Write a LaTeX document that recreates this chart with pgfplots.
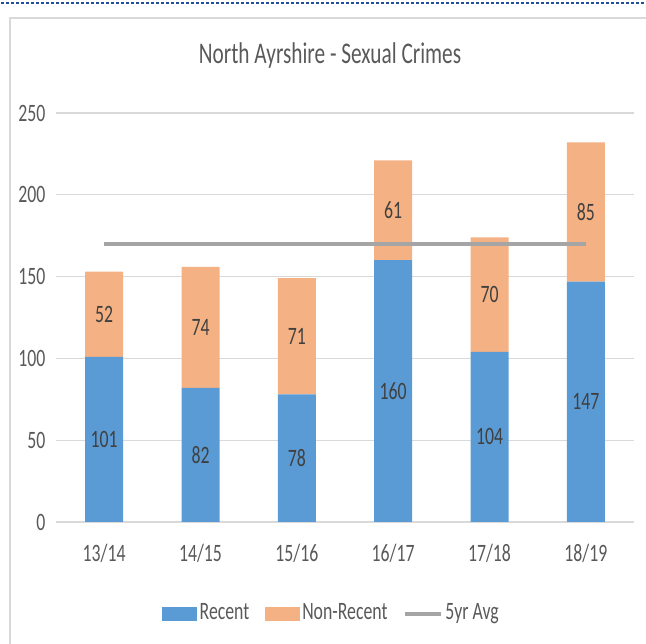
\documentclass[border=0pt]{standalone}
\usepackage{pgfplots}
\pgfplotsset{compat=1.18}
\usepackage{fontspec}
\setmainfont{Carlito}[FakeStretch=0.71]
\definecolor{cblue}{HTML}{5B9BD5}
\definecolor{corange}{HTML}{F4B183}
\definecolor{cgray}{HTML}{A5A5A5}
\definecolor{ctext}{HTML}{595959}
\definecolor{clabel}{HTML}{404040}
\definecolor{cgrid}{HTML}{D9D9D9}
\definecolor{cdot}{HTML}{1F4E9A}
\begin{document}
\fontsize{25}{30}\selectfont
\begin{tikzpicture}[x=1pt,y=1pt]
\useasboundingbox (0,0) rectangle (646,644);
\begin{scope}
\clip (0,0) rectangle (646,644);
\draw[cdot, line width=2.5pt, dash pattern=on 2.5pt off 2.5pt] (1,641) -- (646,641);
\draw[cgrid, line width=1.5pt] (10,-2) rectangle (660,626);
\end{scope}
\node[ctext, font=\fontsize{30}{34}\selectfont] at (330,588) {North Ayrshire - Sexual Crimes};
\pgfplotsset{common/.style={
  at={(56pt,122pt)}, anchor=south west,
  width=578pt, height=409pt, scale only axis,
  xmin=-0.5, xmax=5.5, ymin=0, ymax=250,
}}
\begin{axis}[common,
  ybar stacked, bar width=38pt,
  ytick={0,50,...,250}, xtick={0,...,5},
  xticklabels={13/14,14/15,15/16,16/17,17/18,18/19},
  /pgf/number format/assume math mode=true,
  ymajorgrids, grid style={cgrid, line width=1.3pt},
  axis line style={draw=none}, major tick length=0pt,
  tick label style={ctext, font=\fontsize{25}{30}\selectfont},
  yticklabel style={xshift=-2pt},
  xticklabel style={yshift=-14pt},
  legend style={at={(0.477,-0.2245)}, anchor=center, draw=none, fill=none,
    legend columns=3, font=\fontsize{25}{30}\selectfont\color{ctext},
    /tikz/every even column/.append style={column sep=13pt},
    nodes={inner sep=2.5pt}},
]
\addplot[fill=cblue, draw=none, legend image code/.code={\fill[cblue] (0pt,-7pt) rectangle (35pt,7pt);}]
  coordinates {(0,101) (1,82) (2,78) (3,160) (4,104) (5,147)};
\addlegendentry{Recent}
\addplot[fill=corange, draw=none, legend image code/.code={\fill[corange] (0pt,-7pt) rectangle (35pt,7pt);}]
  coordinates {(0,52) (1,74) (2,71) (3,61) (4,70) (5,85)};
\addlegendentry{Non-Recent}
\addlegendimage{legend image code/.code={\draw[cgray, line width=4pt] (0pt,0pt) -- (36pt,0pt);}}
\addlegendentry{5yr Avg}
\end{axis}
\begin{axis}[common, hide axis]
\addplot[cgray, line width=4.5pt] coordinates {(0,170) (5,170)};
\addplot[draw=none, mark=none, nodes near coords, point meta=explicit symbolic,
  nodes near coords style={anchor=center, clabel, font=\fontsize{25}{30}\selectfont}]
  coordinates {(0,50.5)[101] (0,127)[52] (1,41)[82] (1,119)[74] (2,39)[78] (2,113.5)[71]
   (3,80)[160] (3,190.5)[61] (4,52)[104] (4,139)[70] (5,73.5)[147] (5,189.5)[85]};
\end{axis}
\end{tikzpicture}
\end{document}
